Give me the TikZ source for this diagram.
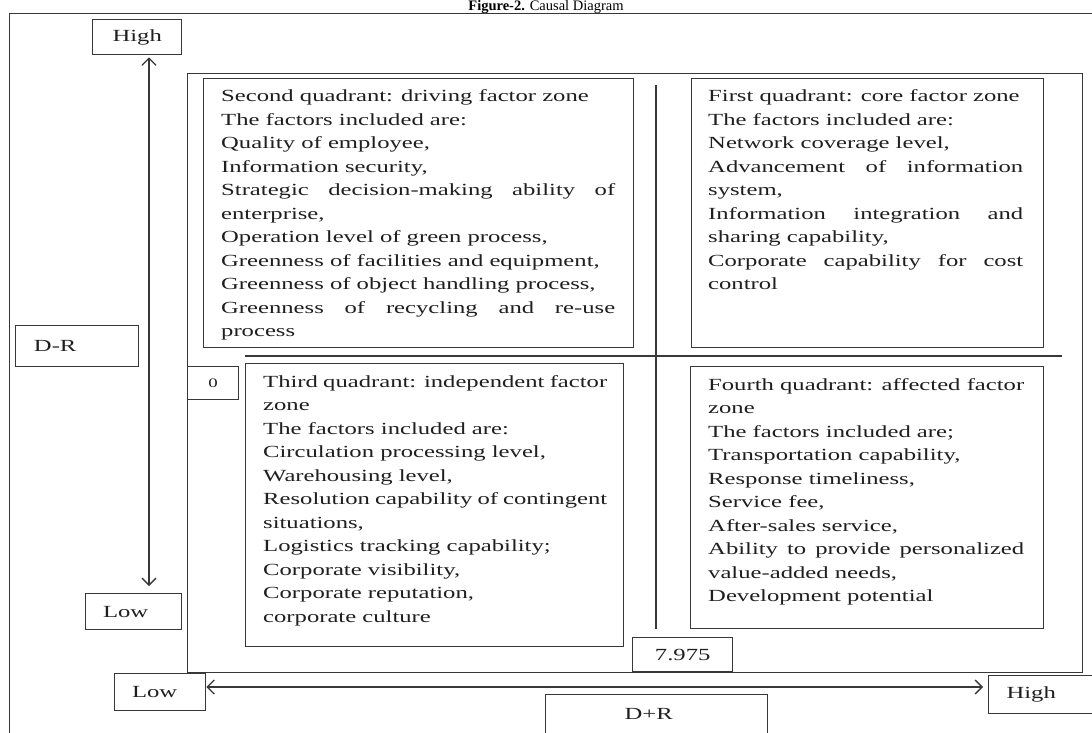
\documentclass[tikz,border=0pt]{standalone}
\usepackage{fontspec}
\setmainfont{Liberation Serif}[FakeStretch=1.45]
\newfontfamily\titlefont{Liberation Serif}
\usetikzlibrary{arrows.meta}
\newcommand{\qf}{\fontsize{17pt}{23.5pt}\selectfont}
\newcommand{\jl}[1]{\makebox[\linewidth][s]{#1}}
\newcommand{\qp}[2]{\parbox[t]{#1}{\qf\raggedright #2}}
\begin{document}
\begin{tikzpicture}[x=1pt,y=-1pt,
  ln/.style={draw=black!78, line width=1.4pt},
  bx/.style={ln, rectangle, inner sep=0pt, anchor=north west, font=\qf, text=black!88},
  arr/.style={draw=black!78, line width=1.3pt, {Straight Barb[length=7pt,width=14pt]}-{Straight Barb[length=7pt,width=14pt]}},
  qt/.style={anchor=base west, inner sep=0pt, text=black!88}]
\useasboundingbox (0,0) rectangle (1092,733);
% title and outer frame
\node[anchor=base, inner sep=0pt, font=\titlefont\fontsize{14.5pt}{16pt}\selectfont] (title) at (546,10.8) {\textbf{Figure-2.} Causal Diagram};
\draw[ln] (9.5,13.8) rectangle (1110,760);
% main frame
\node[bx, minimum width=895pt, minimum height=599pt] (main) at (187,73) {};
% quadrant boxes
\node[bx, minimum width=430pt, minimum height=269pt] (q2) at (203,78) {};
\node[bx, minimum width=352pt, minimum height=269pt] (q1) at (691,78) {};
\node[bx, minimum width=378pt, minimum height=283pt] (q3) at (245,363) {};
\node[bx, minimum width=353pt, minimum height=262pt] (q4) at (690,366) {};
% dividers
\coordinate (vt) at (656,85); \coordinate (vb) at (656,629);
\coordinate (hl) at (245,356); \coordinate (hr) at (1062,356);
\draw[ln] (vt) -- (vb);
\draw[ln] (hl) -- (hr);
% small boxes
\node[bx, minimum width=89pt, minimum height=35pt] (highT) at (92,19) {High};
\node[bx, minimum width=96pt, minimum height=36pt] (lowL) at (85,593) {Low\hspace*{16pt}};
\node[bx, minimum width=123pt, minimum height=41pt] (dr) at (15,325) {D-R\hspace*{44pt}};
\node[bx, minimum width=51pt, minimum height=33pt, font=\fontsize{13pt}{15pt}\selectfont] (zero) at (187,366) {0};
\node[bx, minimum width=100pt, minimum height=34pt] (v7975) at (632,637) {7.975};
\node[bx, minimum width=91pt, minimum height=37pt] (lowB) at (114,673) {Low\hspace*{11pt}};
\node[bx, minimum width=120pt, minimum height=38pt] (highR) at (988,675) {High\hspace*{35pt}};
\node[bx, minimum width=222pt, minimum height=39pt] (dpr) at (545,694) {D+R\hspace*{16pt}};
% axes arrows
\coordinate (vx) at (149,0);
\coordinate (hy) at (0,687);
\draw[arr, shorten <=2pt, shorten >=7pt] (highT.south -| vx) -- (lowL.north -| vx);
\draw[arr, shorten >=5pt] (lowB.east |- hy) -- (highR.west |- hy);
% quadrant texts
\node[qt] (t2) at (221,102) {\qp{394pt}{Second quadrant: driving factor zone\\
The factors included are:\\
Quality of employee,\\
Information security,\\
\jl{Strategic decision-making ability of}\\
enterprise,\\
Operation level of green process,\\
Greenness of facilities and equipment,\\
Greenness of object handling process,\\
\jl{Greenness of recycling and re-use}\\
process}};
\node[qt] (t1) at (708,102) {\qp{315pt}{First quadrant: core factor zone\\
The factors included are:\\
Network coverage level,\\
\jl{Advancement of information}\\
system,\\
\jl{Information integration and}\\
sharing capability,\\
\jl{Corporate capability for cost}\\
control}};
\node[qt] (t3) at (263,387) {\qp{344pt}{\jl{Third quadrant: independent factor}\\
zone\\
The factors included are:\\
Circulation processing level,\\
Warehousing level,\\
\jl{Resolution capability of contingent}\\
situations,\\
Logistics tracking capability;\\
Corporate visibility,\\
Corporate reputation,\\
corporate culture}};
\node[qt] (t4) at (708,390) {\qp{316pt}{\jl{Fourth quadrant: affected factor}\\
zone\\
The factors included are;\\
Transportation capability,\\
Response timeliness,\\
Service fee,\\
After-sales service,\\
\jl{Ability to provide personalized}\\
value-added needs,\\
Development potential}};
\end{tikzpicture}
\end{document}
